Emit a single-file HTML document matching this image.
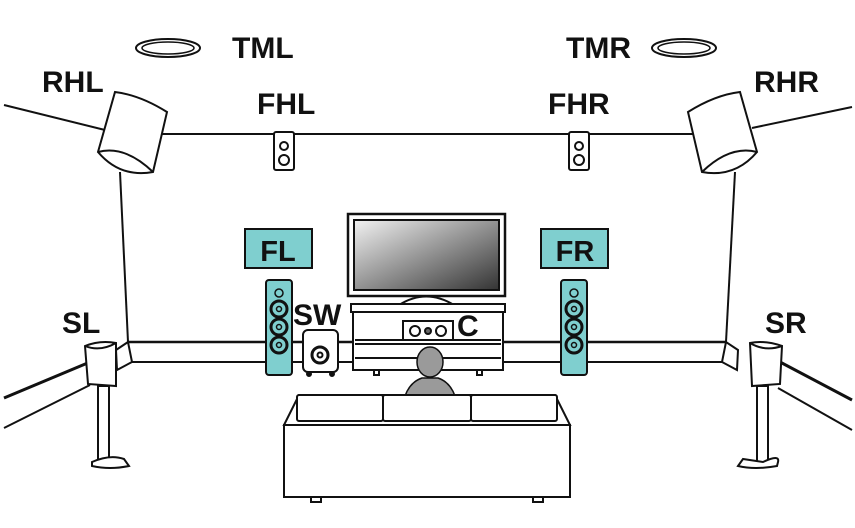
<!DOCTYPE html>
<html><head><meta charset="utf-8"><style>
html,body{margin:0;padding:0;background:#fff;}
svg{display:block;}
text{font-family:"Liberation Sans",sans-serif;font-weight:bold;fill:#111;}
</style></head><body>
<svg width="855" height="528" viewBox="0 0 855 528" xmlns="http://www.w3.org/2000/svg">
<defs>
<linearGradient id="scr" x1="0" y1="0" x2="1" y2="1">
<stop offset="0" stop-color="#f2f2f2"/><stop offset="1" stop-color="#333"/>
</linearGradient>
</defs>
<g stroke="#111" stroke-width="2" fill="none">
<line x1="4" y1="105" x2="105" y2="130"/>
<line x1="160" y1="134" x2="695" y2="134"/>
<line x1="752" y1="128" x2="852" y2="107"/>
<line x1="120" y1="172" x2="128" y2="342"/>
<line x1="735" y1="172" x2="726" y2="342"/>
<line x1="128" y1="342" x2="726" y2="342" stroke-width="2.5"/>
<line x1="132" y1="362" x2="722" y2="362"/>
<polygon points="116,350 128,342 132,362 117,370" fill="#fff"/>
<polygon points="738,350 726,342 722,362 737,370" fill="#fff"/>
<line x1="4" y1="398" x2="90" y2="362" stroke-width="3"/>
<line x1="4" y1="428" x2="90" y2="385"/>
<line x1="780" y1="362" x2="852" y2="400" stroke-width="3"/>
<line x1="778" y1="388" x2="852" y2="430"/>
</g>
<g stroke="#111" stroke-width="2" fill="#fff">
<path d="M115,92 Q140,95 167,112 L153,172 Q120,178 98,152 Z"/>
<path d="M98,152 Q125,145 153,172" fill="none"/>
<path d="M740,92 Q715,95 688,112 L702,172 Q735,178 757,152 Z"/>
<path d="M757,152 Q730,145 702,172" fill="none"/>
</g>
<g stroke="#111" fill="#fff">
<ellipse cx="168" cy="48" rx="32" ry="9" stroke-width="2"/>
<ellipse cx="168" cy="48" rx="26" ry="6" stroke-width="1.5"/>
<ellipse cx="684" cy="48" rx="32" ry="9" stroke-width="2"/>
<ellipse cx="684" cy="48" rx="26" ry="6" stroke-width="1.5"/>
</g>
<g stroke="#111" stroke-width="2" fill="#fff">
<rect x="274" y="132" width="20" height="38" rx="2"/>
<circle cx="284" cy="146" r="4"/><circle cx="284" cy="160" r="5"/>
<rect x="569" y="132" width="20" height="38" rx="2"/>
<circle cx="579" cy="146" r="4"/><circle cx="579" cy="160" r="5"/>
</g>
<g stroke="#111" stroke-width="2">
<rect x="348" y="214" width="157" height="82" fill="#fff" stroke-width="2.5"/>
<rect x="354" y="220" width="145" height="70" fill="url(#scr)"/>
<path d="M399,305 Q426,288 454,305 Z" fill="#fff"/>
<rect x="351" y="304" width="154" height="8" fill="#fff"/>
<rect x="353" y="312" width="150" height="58" fill="#fff"/>
<line x1="355" y1="340" x2="501" y2="340"/>
<line x1="355" y1="344" x2="501" y2="344"/>
<line x1="355" y1="358" x2="501" y2="358"/>
<rect x="374" y="370" width="5" height="5" fill="#fff"/>
<rect x="477" y="370" width="5" height="5" fill="#fff"/>
<rect x="403" y="321" width="50" height="19" fill="#fff"/>
<circle cx="415" cy="331" r="5" fill="#fff"/><circle cx="428" cy="331" r="3" fill="#666"/><circle cx="441" cy="331" r="5" fill="#fff"/>
</g>
<rect x="245" y="229" width="67" height="39" fill="#7fcfcf" stroke="#111" stroke-width="2"/>
<rect x="541" y="229" width="67" height="39" fill="#7fcfcf" stroke="#111" stroke-width="2"/>
<text x="278" y="261" font-size="29" text-anchor="middle">FL</text>
<text x="575" y="261" font-size="29" text-anchor="middle">FR</text>
<g stroke="#111" stroke-width="2">
<rect x="266" y="280" width="26" height="95" rx="3" fill="#7fcfcf"/>
<rect x="561" y="280" width="26" height="95" rx="3" fill="#7fcfcf"/>
</g>
<g stroke="#111" fill="#7fcfcf">
<g stroke-width="3"><circle cx="279" cy="309" r="8"/><circle cx="279" cy="327" r="8"/><circle cx="279" cy="345" r="8"/>
<circle cx="574" cy="309" r="8"/><circle cx="574" cy="327" r="8"/><circle cx="574" cy="345" r="8"/></g>
<g stroke-width="1.5"><circle cx="279" cy="309" r="2.5"/><circle cx="279" cy="327" r="2.5"/><circle cx="279" cy="345" r="2.5"/>
<circle cx="574" cy="309" r="2.5"/><circle cx="574" cy="327" r="2.5"/><circle cx="574" cy="345" r="2.5"/>
<circle cx="279" cy="293" r="4"/><circle cx="574" cy="293" r="4"/></g>
</g>
<g stroke="#111" stroke-width="2" fill="#fff">
<rect x="303" y="330" width="35" height="42" rx="5"/>
<circle cx="320" cy="355" r="8" stroke-width="3"/><circle cx="320" cy="355" r="2.5"/>
<circle cx="309" cy="374" r="2" fill="#111"/><circle cx="332" cy="374" r="2" fill="#111"/>
</g>
<g fill="#9a9a9a" stroke="#111" stroke-width="1.5">
<path d="M405,396 Q410,382 422,378 L438,378 Q450,382 455,396 Z"/>
<ellipse cx="430" cy="362" rx="13" ry="15"/>
</g>
<g stroke="#111" stroke-width="2" fill="#fff">
<path d="M299,395 L555,395 L570,425 L284,425 Z"/>
<rect x="284" y="425" width="286" height="72"/>
<rect x="297" y="395" width="86" height="26" rx="2"/>
<rect x="383" y="395" width="88" height="26" rx="2"/>
<rect x="471" y="395" width="86" height="26" rx="2"/>
<rect x="311" y="497" width="10" height="5"/>
<rect x="533" y="497" width="10" height="5"/>
</g>
<g stroke="#111" stroke-width="2" fill="#fff">
<path d="M85,346 Q100,340 116,343 L116,386 L88,384 Z"/>
<path d="M85,346 Q100,352 116,343" fill="none"/>
<rect x="98" y="386" width="11" height="76"/>
<path d="M92,462 Q110,454 124,459 L129,466 Q110,470 92,466 Z"/>
<path d="M750,343 Q765,340 782,346 L780,384 L752,386 Z"/>
<path d="M750,343 Q765,352 782,346" fill="none"/>
<rect x="757" y="386" width="11" height="76"/>
<path d="M763,462 Q780,454 778,462 L777,466 Q755,470 738,466 L743,459 Z"/>
</g>
<g font-size="30">
<text x="232" y="58">TML</text>
<text x="42" y="92">RHL</text>
<text x="257" y="114">FHL</text>
<text x="566" y="58">TMR</text>
<text x="754" y="92">RHR</text>
<text x="548" y="114">FHR</text>
<text x="62" y="333">SL</text>
<text x="765" y="333">SR</text>
<text x="293" y="325">SW</text>
<text x="457" y="336">C</text>
</g>
</svg>
</body></html>
